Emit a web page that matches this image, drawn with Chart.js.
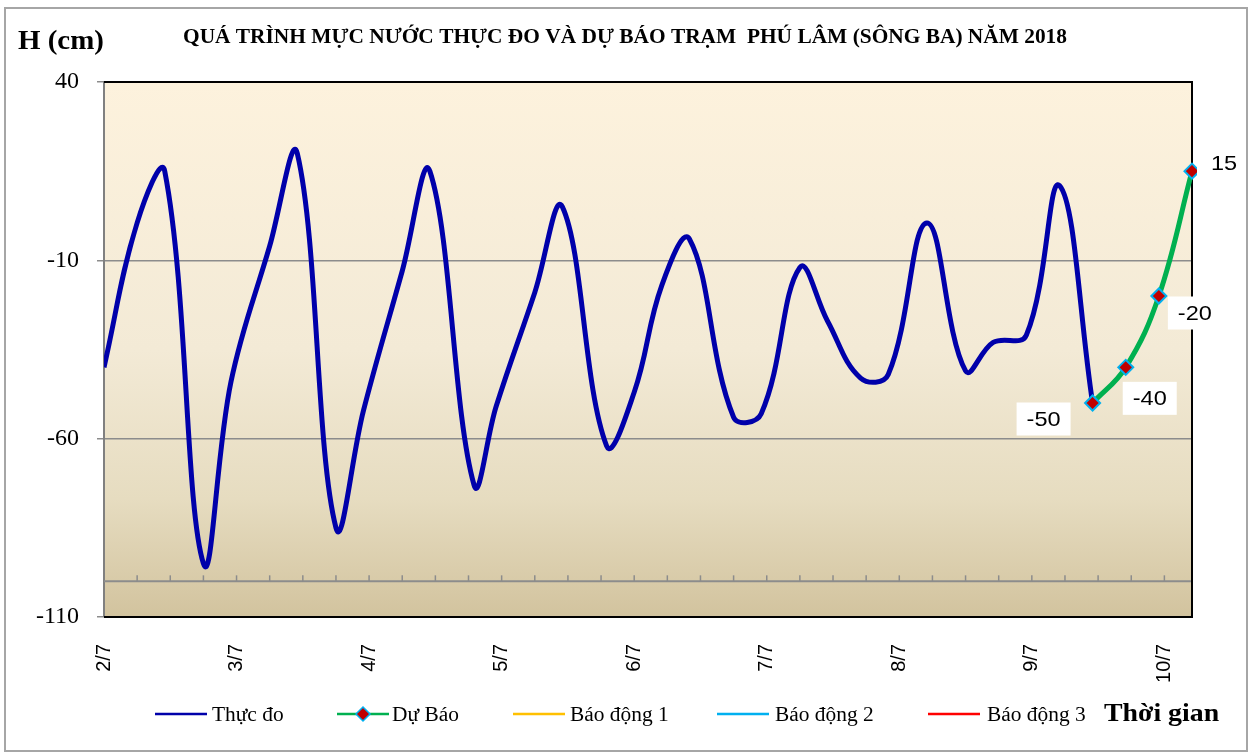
<!DOCTYPE html>
<html><head><meta charset="utf-8">
<script src="https://cdn.jsdelivr.net/npm/chart.js@4/dist/chart.umd.min.js"></script>
<style>html,body{margin:0;padding:0;background:#fff;}#wrap{width:1251px;height:754px;}</style>
</head><body><div id="wrap"><canvas id="c" width="1251" height="754"></canvas></div>
<script>
const chartTitle = 'QUÁ TRÌNH MỰC NƯỚC THỰC ĐO VÀ DỰ BÁO TRẠM  PHÚ LÂM (SÔNG BA) NĂM 2018';
const yAxisTitle = 'H (cm)';
const xAxisTitle = 'Thời gian';
const seriesNames = ['Thực đo', 'Dự Báo', 'Báo động 1', 'Báo động 2', 'Báo động 3'];
const dayTicks = [0, 24, 48, 72, 96, 120, 144, 168, 192];
const dayLabels = ['2/7', '3/7', '4/7', '5/7', '6/7', '7/7', '8/7', '9/7', '10/7'];
const yTicks = [40, -10, -60, -110];
// observed (hours from start of 2/7, water level cm)
const obsHours = [0, 6, 11, 18, 23, 30, 35, 42, 47, 54, 59, 67, 71, 78, 83, 91, 96, 101, 106, 114, 119, 126, 131, 137, 142, 149, 156, 161, 167, 173, 179];
const obsLevels = [-40, 0.5, 15, -95, -44, -6, 20, -85, -52, -13, 15, -73, -51, -19, 5, -62, -47, -17, -4, -54, -53, -12, -27, -43, -42, 0.5, -41, -33, -31, 11, -50];
// forecast
const fcHours = [179, 185, 191, 197];
const fcLevels = [-50, -40, -20, 15];

const SERIF = '"Liberation Serif","Times New Roman",serif';
const SANS = '"Liberation Sans",Arial,sans-serif';
const colors = ['#0000AA', '#00B050', '#FFC000', '#00B0F0', '#FF0000'];
const labelOffsets = [[-49, 16], [24, 31], [36, 17], [32, -8]];
const SX = 1.07;

const toXY = (xs, ys) => xs.map((x, i) => ({ x: x, y: ys[i] }));

function stretchText(ctx, txt, x, y, align, sx) {
  ctx.save();
  ctx.translate(x, y);
  ctx.scale(sx, 1);
  ctx.textAlign = align;
  ctx.fillText(txt, 0, 0);
  ctx.restore();
}

const decor = {
  id: 'decor',
  beforeDraw(chart) {
    const ctx = chart.ctx, a = chart.chartArea;
    ctx.save();
    ctx.fillStyle = '#fff';
    ctx.fillRect(0, 0, chart.width, chart.height);
    const g = ctx.createLinearGradient(0, a.top, 0, a.bottom);
    g.addColorStop(0, '#fdf2dd');
    g.addColorStop(0.5, '#f3ead6');
    g.addColorStop(0.78, '#e6dcc0');
    g.addColorStop(1, '#d2c39e');
    ctx.fillStyle = g;
    ctx.fillRect(a.left, a.top, a.right - a.left, a.bottom - a.top);
    ctx.restore();
  },
  beforeDatasetsDraw(chart) {
    const ctx = chart.ctx, a = chart.chartArea;
    const xs = chart.scales.x, ys = chart.scales.y;
    ctx.save();
    const yb = ys.getPixelForValue(-100);
    ctx.strokeStyle = '#8c8c8c';
    ctx.lineWidth = 2;
    ctx.beginPath();
    ctx.moveTo(a.left, yb); ctx.lineTo(a.right, yb);
    ctx.stroke();
    ctx.lineWidth = 1.5;
    for (let h = 6; h < xs.max; h += 6) {
      const px = xs.getPixelForValue(h);
      ctx.beginPath(); ctx.moveTo(px, yb - 6); ctx.lineTo(px, yb); ctx.stroke();
    }
    ctx.strokeStyle = '#000';
    ctx.lineWidth = 2;
    ctx.beginPath();
    ctx.moveTo(a.left, a.top); ctx.lineTo(a.right, a.top); ctx.lineTo(a.right, a.bottom); ctx.lineTo(a.left, a.bottom);
    ctx.stroke();
    ctx.restore();
  },
  afterDraw(chart) {
    const ctx = chart.ctx;
    ctx.save();
    ctx.fillStyle = '#000';
    ctx.textBaseline = 'middle';
    ctx.font = 'bold 20px ' + SERIF;
    const tw = ctx.measureText(chartTitle).width;
    stretchText(ctx, chartTitle, 625, 38, 'center', 884 / tw);
    ctx.font = 'bold 27px ' + SERIF;
    stretchText(ctx, yAxisTitle, 18, 42, 'left', SX);
    ctx.font = 'bold 26px ' + SERIF;
    stretchText(ctx, xAxisTitle, 1104, 714, 'left', SX);
    // legend
    const pos = [[155, 212], [337, 392], [513, 570], [717, 775], [928, 987]];
    ctx.font = '20px ' + SERIF;
    chart.data.datasets.forEach((ds, i) => {
      const [lx, tx] = pos[i];
      ctx.strokeStyle = ds.borderColor;
      ctx.lineWidth = 2.5;
      ctx.beginPath(); ctx.moveTo(lx, 714); ctx.lineTo(lx + 52, 714); ctx.stroke();
      if (i === 1) {
        const cx = lx + 26;
        ctx.beginPath();
        ctx.moveTo(cx, 707); ctx.lineTo(cx + 7, 714); ctx.lineTo(cx, 721); ctx.lineTo(cx - 7, 714); ctx.closePath();
        ctx.fillStyle = '#C00000'; ctx.fill();
        ctx.strokeStyle = '#00B0F0'; ctx.lineWidth = 1.5; ctx.stroke();
      }
      ctx.fillStyle = '#000';
      stretchText(ctx, ds.label, tx, 716, 'left', SX);
    });
    // data labels on forecast
    const meta = chart.getDatasetMeta(1);
    ctx.font = '21px ' + SANS;
    meta.data.forEach((pt, i) => {
      const [dx, dy] = labelOffsets[i];
      const txt = String(fcLevels[i]);
      const w = 54, h = 33;
      const cx = pt.x + dx, cy = pt.y + dy;
      ctx.fillStyle = '#fff';
      ctx.fillRect(cx - w / 2, cy - h / 2, w, h);
      ctx.fillStyle = '#000';
      stretchText(ctx, txt, cx, cy + 1, 'center', 1.12);
    });
    // outer frame
    ctx.strokeStyle = '#a6a6a6';
    ctx.lineWidth = 2;
    ctx.strokeRect(5, 8, 1242, 743);
    ctx.restore();
  }
};

new Chart(document.getElementById('c'), {
  type: 'line',
  data: {
    datasets: [
      { label: seriesNames[0], data: toXY(obsHours, obsLevels), borderColor: colors[0], borderWidth: 5, tension: 0.4, pointRadius: 0, order: 2 },
      { label: seriesNames[1], data: toXY(fcHours, fcLevels), borderColor: colors[1], borderWidth: 5, tension: 0.4, pointStyle: 'rectRot', pointRadius: 7.5, pointBackgroundColor: '#C00000', pointBorderColor: '#00B0F0', pointBorderWidth: 2, clip: false, order: 1 },
      { label: seriesNames[2], data: [], borderColor: colors[2], borderWidth: 2 },
      { label: seriesNames[3], data: [], borderColor: colors[3], borderWidth: 2 },
      { label: seriesNames[4], data: [], borderColor: colors[4], borderWidth: 2 }
    ]
  },
  options: {
    responsive: false,
    animation: false,
    devicePixelRatio: 1,
    layout: { padding: { left: 0, right: 59, top: 82, bottom: 0 } },
    plugins: { legend: { display: false }, title: { display: false }, tooltip: { enabled: false } },
    scales: {
      x: {
        type: 'linear', min: 0, max: 197,
        afterFit(s) { s.height = 137; },
        afterBuildTicks(s) { s.ticks = dayTicks.map(v => ({ value: v })); },
        grid: { display: false, drawTicks: false },
        border: { display: false },
        ticks: {
          minRotation: 90, maxRotation: 90, padding: 27, autoSkip: false,
          color: '#000', font: { family: SANS, size: 20 },
          callback: v => dayLabels[dayTicks.indexOf(v)]
        }
      },
      y: {
        min: -110, max: 40,
        afterFit(s) { s.width = 104; },
        afterBuildTicks(s) { s.ticks = yTicks.map(v => ({ value: v })); },
        grid: {
          color: c => (c.tick && (c.tick.value === -10 || c.tick.value === -60)) ? '#8c8c8c' : 'rgba(0,0,0,0)',
          lineWidth: 1.5, tickColor: '#8c8c8c', tickLength: 7
        },
        border: { color: '#808080', width: 2 },
        ticks: { padding: 18, color: '#000', font: { family: SERIF, size: 24 } }
      }
    }
  },
  plugins: [decor]
});
</script>
</body></html>
